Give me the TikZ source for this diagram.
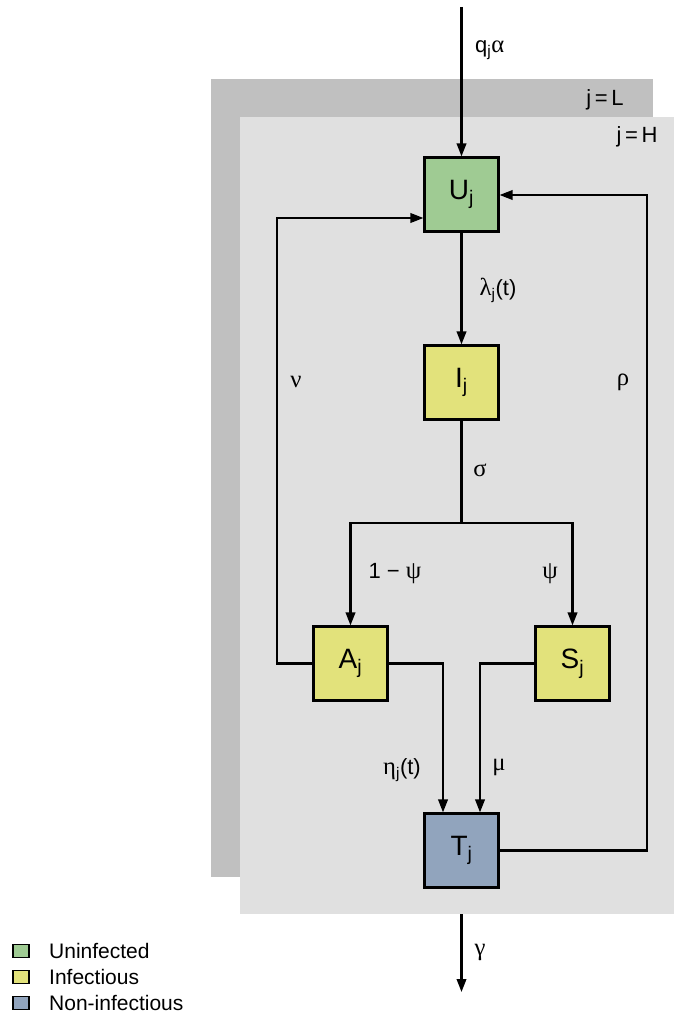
\documentclass[tikz,border=0pt]{standalone}
\usepackage{fontspec}
\setmainfont{Liberation Sans}
\newfontfamily\gk{Liberation Serif}[Scale=1.12]
\usetikzlibrary{arrows.meta}
\definecolor{cU}{HTML}{9FCB93}
\definecolor{cI}{HTML}{E2E27B}
\definecolor{cT}{HTML}{91A4BD}
\definecolor{panelL}{HTML}{C0C0C0}
\definecolor{panelH}{HTML}{E0E0E0}
\begin{document}
\begin{tikzpicture}[x=1pt,y=-1pt,
  comp/.style={draw=black, line width=2.2pt, minimum size=74pt, inner sep=0pt, font=\fontsize{28}{32}\selectfont},
  flow/.style={line width=2.2pt, -{Triangle[length=13pt,width=9.5pt]}},
  link/.style={line width=2.2pt},
  lbl/.style={font=\fontsize{22}{26}\selectfont, inner sep=0pt},
  leg/.style={draw=black, line width=1.6pt, minimum width=16pt, minimum height=13pt, inner sep=0pt},
  legtxt/.style={font=\fontsize{21}{24}\selectfont, anchor=west, inner sep=0pt}]
\useasboundingbox (0,0) rectangle (674,1016);
% panels
\fill[panelL] (211,79) rectangle (653,877);
\fill[panelH] (240,117) rectangle (674,914);
\node[lbl] (jL) at (605,100) {j\,=\,L};
\node[lbl] (jH) at (637,137) {j\,=\,H};
% compartments
\node[comp, fill=cU] (U) at (461.5,194.5) {U\textsubscript{j}};
\node[comp, fill=cI] (I) at (461.5,382.5) {I\textsubscript{j}};
\node[comp, fill=cI] (A) at (350.5,663.5) {A\textsubscript{j}};
\node[comp, fill=cI] (S) at (572.5,663.5) {S\textsubscript{j}};
\node[comp, fill=cT] (T) at (461.5,850.5) {T\textsubscript{j}};
% helper coordinates
\coordinate (inflow) at (461.5,7);
\coordinate (split) at (461.5,523);
\coordinate (nuC) at (277,218);
\coordinate (rhoC) at (647,195);
\coordinate (gStart) at (461.5,914);
\coordinate (gEnd) at (461.5,992);
% connectors
\draw[flow] (inflow) -- (U.north);
\draw[flow] (U.south) -- (I.north);
\draw[link] (I.south) -- (split);
\draw[flow] (split) -| (A.north);
\draw[flow] (split) -| (S.north);
\draw[flow] (A.west) -| (nuC) -- (U.west |- nuC);
\draw[flow] (T.east) -| (rhoC) -- (U.east |- rhoC);
\draw[flow] (A.east) -| ([xshift=-18.5pt]T.north);
\draw[flow] (S.west) -| ([xshift=18.5pt]T.north);
\draw[flow] (gStart) -- (gEnd);
% labels
\node[lbl, anchor=west] (lq) at (475,50) {q\textsubscript{j}{\gk α}};
\node[lbl] (llam) at (498,290) {{\gk λ}\textsubscript{j}(t)};
\node[lbl] (lnu) at (296,382) {\gk ν};
\node[lbl] (lrho) at (623,382) {\gk ρ};
\node[lbl] (lsig) at (480,470) {\gk σ};
\node[lbl] (l1psi) at (395,574) {1 − {\gk ψ}};
\node[lbl] (lpsi) at (550,574) {\gk ψ};
\node[lbl] (leta) at (402,770) {{\gk η}\textsubscript{j}(t)};
\node[lbl] (lmu) at (499,767) {\gk μ};
\node[lbl] (lgam) at (480,952) {\gk γ};
% legend
\node[leg, fill=cU] (kU) at (21,951) {};
\node[leg, fill=cI] (kI) at (21,977) {};
\node[leg, fill=cT] (kT) at (21,1003) {};
\node[legtxt] (tU) at (49,951) {Uninfected};
\node[legtxt] (tI) at (49,977) {Infectious};
\node[legtxt] (tT) at (49,1003) {Non-infectious};
\end{tikzpicture}
\end{document}
